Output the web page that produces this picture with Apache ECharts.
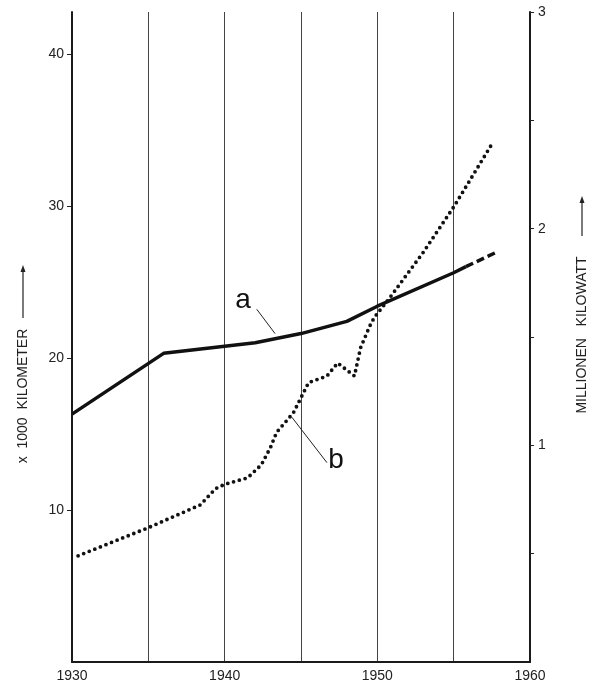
<!DOCTYPE html>
<html><head><meta charset="utf-8">
<script src="https://cdn.jsdelivr.net/npm/echarts@6/dist/echarts.min.js"></script>
<style>html,body{margin:0;padding:0;background:#fff}#c{width:589px;height:693px}</style>
</head><body><div id="c"></div>
<script>
// Series a: road length, x 1000 km (left axis)
const aSolid = [[1930,16.3],[1936,20.3],[1942,21.0],[1945,21.6],[1948,22.4],[1950,23.4],[1955,25.6],[1955.8,26.0]];
const aDashed = [[1955.8,26.0],[1957.7,26.9]];
// Series b: million kW (right axis)
const bData = [[1930.4,0.49],[1935.0,0.62],[1938.4,0.725],[1939.4,0.80],[1940.0,0.82],[1941.5,0.85],[1942.4,0.91],[1943.0,0.99],[1943.4,1.06],[1944.5,1.15],[1945.5,1.29],[1946.7,1.32],[1947.4,1.38],[1948.5,1.32],[1948.9,1.45],[1949.5,1.55],[1949.8,1.59],[1950.8,1.68],[1953.0,1.89],[1955.0,2.10],[1957.5,2.39]];
const xLabels = [1930,1940,1950,1960];
const leftLabels = [10,20,30,40];
const rightTicks = [0.5,1,1.5,2,2.5,3];
const rightLabels = [1,2,3];
const leftTitle = 'x  1000  KILOMETER';
const rightTitle = 'MILLIONEN   KILOWATT';

const FONT = 'Liberation Sans';
const chart = echarts.init(document.getElementById('c'), null, {renderer:'canvas'});
const axisLine = {show:true, lineStyle:{color:'#1a1a1a', width:2}};
chart.setOption({
  animation:false,
  backgroundColor:'#fff',
  grid:{left:72, right:59, top:12, bottom:31},
  xAxis:{type:'value', min:1930, max:1960, interval:5,
    axisLine:axisLine, axisTick:{show:false},
    axisLabel:{customValues:xLabels, margin:7, color:'#222', fontSize:14, fontFamily:FONT, formatter:v=>String(v)},
    splitLine:{show:true, lineStyle:{color:'#444', width:1}}},
  yAxis:[
    {type:'value', position:'left', min:0, max:42.75, interval:10,
     axisLine:axisLine, axisTick:{show:true, customValues:leftLabels, length:5, lineStyle:{color:'#222'}},
     axisLabel:{customValues:leftLabels, margin:8, color:'#222', fontSize:14, fontFamily:FONT},
     splitLine:{show:false}},
    {type:'value', position:'right', min:0, max:3, interval:0.5,
     axisLine:axisLine, axisTick:{show:true, customValues:rightTicks, length:4, lineStyle:{color:'#222'}},
     axisLabel:{customValues:rightLabels, margin:8, color:'#222', fontSize:14, fontFamily:FONT},
     splitLine:{show:false}}
  ],
  series:[
    {type:'line', data:aSolid, yAxisIndex:0, symbol:'none', lineStyle:{color:'#111', width:3.5}, z:3},
    {type:'line', data:aDashed, yAxisIndex:0, symbol:'none', lineStyle:{color:'#111', width:3.5, type:[8,4]}, z:3},
    {type:'line', data:bData, yAxisIndex:1, symbol:'none', lineStyle:{color:'#111', width:3.8, type:[0,6], cap:'round'}, z:4}
  ]
});

// annotation anchors in data coordinates
const aText = [1941.2, 23.8], aLead = [[1942.1,23.2],[1943.3,21.6]];
const bText = [1947.3, 0.93], bLead = [[1944.4,1.13],[1946.7,0.92]];
const pL = p => chart.convertToPixel({xAxisIndex:0, yAxisIndex:0}, p);
const pR = p => chart.convertToPixel({xAxisIndex:0, yAxisIndex:1}, p);
const at = pL(aText), a1 = pL(aLead[0]), a2 = pL(aLead[1]);
const bt = pR(bText), b1 = pR(bLead[0]), b2 = pR(bLead[1]);

function arrowTitle(cx, textCy, text, arrowFrom, arrowTo){
  return [
    {type:'text', x:cx, y:textCy, rotation:Math.PI/2,
     style:{text:text, fill:'#222', font:'14px '+FONT, align:'center', verticalAlign:'middle'}},
    {type:'line', shape:{x1:cx, y1:arrowFrom, x2:cx, y2:arrowTo+4}, style:{stroke:'#222', lineWidth:1.2}},
    {type:'polygon', shape:{points:[[cx,arrowTo],[cx-2.5,arrowTo+7],[cx+2.5,arrowTo+7]]}, style:{fill:'#222'}}
  ];
}

chart.setOption({graphic:[
  {type:'text', x:at[0], y:at[1], style:{text:'a', fill:'#111', font:'28px '+FONT, align:'center', verticalAlign:'middle'}},
  {type:'line', shape:{x1:a1[0], y1:a1[1], x2:a2[0], y2:a2[1]}, style:{stroke:'#222', lineWidth:1}},
  {type:'text', x:bt[0], y:bt[1], style:{text:'b', fill:'#111', font:'28px '+FONT, align:'center', verticalAlign:'middle'}},
  {type:'line', shape:{x1:b1[0], y1:b1[1], x2:b2[0], y2:b2[1]}, style:{stroke:'#222', lineWidth:1}},
  ...arrowTitle(23, 396, leftTitle, 318, 265),
  ...arrowTitle(582, 335, rightTitle, 236, 196)
]});
</script></body></html>
